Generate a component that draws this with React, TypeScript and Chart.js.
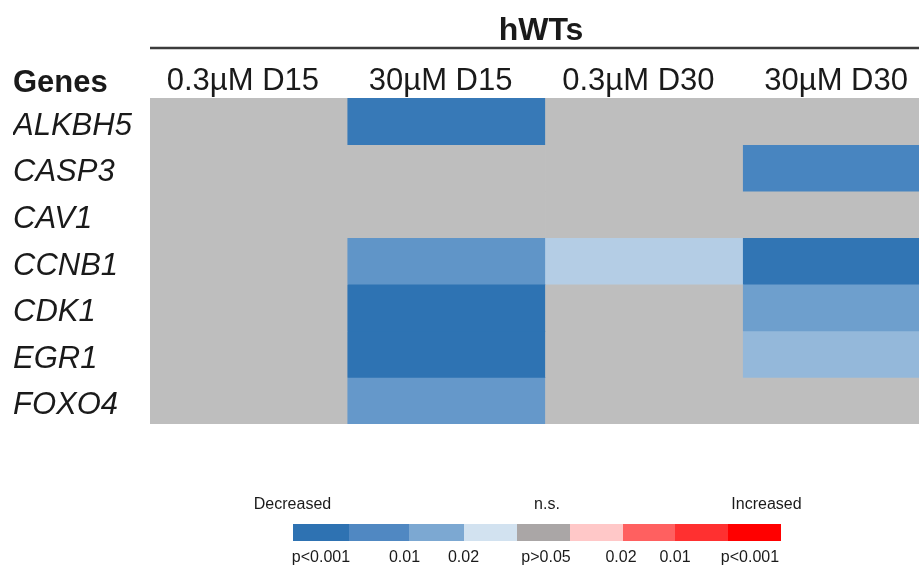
import { useEffect, useRef } from "react";
import { Chart, registerables } from "chart.js";

Chart.register(...registerables);

// ---- data ----
const genes = ["ALKBH5", "CASP3", "CAV1", "CCNB1", "CDK1", "EGR1", "FOXO4"];
const conditions = ["0.3µM D15", "30µM D15", "0.3µM D30", "30µM D30"];
const groupTitle = "hWTs";
const rowHeader = "Genes";

// p-values of decreased expression per condition (null = n.s., p>0.05)
const pALKBH5 = [null, 0.004, null, null];
const pCASP3 = [null, null, null, 0.01];
const pCAV1 = [null, null, null, null];
const pCCNB1 = [null, 0.015, 0.041, 0.002];
const pCDK1 = [null, 0.001, null, 0.018];
const pEGR1 = [null, 0.001, null, 0.03];
const pFOXO4 = [null, 0.016, null, null];
const pValues: (number | null)[][] = [pALKBH5, pCASP3, pCAV1, pCCNB1, pCDK1, pEGR1, pFOXO4];

// colour key
const legendColors = [
  "#2e72b2", "#5088c2", "#7ca8d2", "#d2e2f0",
  "#aaa6a6",
  "#ffc8c8", "#ff6060", "#ff3030", "#ff0000",
];
const legendHeads = ["Decreased", "n.s.", "Increased"];
const legendTicks = ["p<0.001", "0.01", "0.02", "p>0.05", "0.02", "0.01", "p<0.001"];

// ---- styling ----
const FONT = "'Liberation Sans', Arial, Helvetica, sans-serif";
const TEXT = "#1a1a1a";
const NS_GREY = "#bebebe";

// blue ramp for decreased genes, interpolated linearly in p between stops
const decreasedStops: [number, number[]][] = [
  [0.001, [46, 115, 179]],
  [0.01, [72, 133, 192]],
  [0.02, [120, 165, 208]],
  [0.05, [205, 222, 238]],
];

function decreasedColor(p: number | null): string {
  if (p === null || p > 0.05) return NS_GREY;
  if (p <= decreasedStops[0][0]) return `rgb(${decreasedStops[0][1].join(",")})`;
  for (let i = 1; i < decreasedStops.length; i++) {
    const [p1, c1] = decreasedStops[i];
    const [p0, c0] = decreasedStops[i - 1];
    if (p <= p1) {
      const t = (p - p0) / (p1 - p0);
      const c = c0.map((v, k) => Math.round(v + (c1[k] - v) * t));
      return `rgb(${c.join(",")})`;
    }
  }
  return NS_GREY;
}

// layout of the header and colour key (canvas pixels)
const KEY_EDGES = [293, 349, 409, 464, 517, 570, 623, 675, 728, 781];
const KEY_TOP = 524;
const KEY_HEIGHT = 17;
const KEY_HEAD_X = [292.5, 547, 766.5];
const KEY_TICK_X = [321, 404.5, 463.5, 546, 621, 675, 750];

const decorPlugin = {
  id: "heatmapDecor",
  afterDraw(chart: Chart) {
    const { ctx, chartArea } = chart;
    ctx.save();
    ctx.fillStyle = TEXT;
    ctx.textBaseline = "alphabetic";

    // group title with its rule
    ctx.font = `bold 32px ${FONT}`;
    ctx.textAlign = "center";
    ctx.fillText(groupTitle, 541, 40);
    ctx.strokeStyle = "#3c3c3c";
    ctx.lineWidth = 2.5;
    ctx.beginPath();
    ctx.moveTo(chartArea.left, 48);
    ctx.lineTo(chart.width, 48);
    ctx.stroke();

    // row header
    ctx.font = `bold 31px ${FONT}`;
    ctx.textAlign = "left";
    ctx.fillText(rowHeader, 13, 92);

    // colour key
    legendColors.forEach((c, i) => {
      ctx.fillStyle = c;
      ctx.fillRect(KEY_EDGES[i], KEY_TOP, KEY_EDGES[i + 1] - KEY_EDGES[i], KEY_HEIGHT);
    });
    ctx.fillStyle = TEXT;
    ctx.font = `16px ${FONT}`;
    ctx.textAlign = "center";
    legendHeads.forEach((t, i) => ctx.fillText(t, KEY_HEAD_X[i], 509));
    legendTicks.forEach((t, i) => ctx.fillText(t, KEY_TICK_X[i], 562));
    ctx.restore();
  },
};

export default function App() {
  const canvasRef = useRef<HTMLCanvasElement | null>(null);

  useEffect(() => {
    const canvas = canvasRef.current;
    if (!canvas) return;

    const datasets = genes.map((g, r) => ({
      label: g,
      data: conditions.map(() => 1),
      backgroundColor: pValues[r].map((p) => decreasedColor(p)),
      borderWidth: 0,
      barPercentage: 1,
      categoryPercentage: 1,
    }));

    const chart = new Chart(canvas, {
      type: "bar",
      data: { labels: conditions, datasets },
      plugins: [decorPlugin],
      options: {
        responsive: false,
        animation: false,
        layout: { padding: { left: 13, top: 0, right: 19, bottom: 142 } },
        plugins: { legend: { display: false }, tooltip: { enabled: false } },
        scales: {
          x: {
            type: "category",
            position: "top",
            stacked: true,
            grid: { display: false, drawTicks: false },
            border: { display: false },
            afterFit: (s: any) => {
              s.height = 98;
            },
            ticks: {
              color: TEXT,
              font: { family: FONT, size: 31, lineHeight: 1 },
              padding: 1,
              labelOffset: -6,
              maxRotation: 0,
              autoSkip: false,
            },
          },
          y: {
            type: "linear",
            stacked: true,
            reverse: true,
            min: 0,
            max: genes.length,
            grid: { display: false, drawTicks: false },
            border: { display: false },
            afterBuildTicks: (s: any) => {
              s.ticks = genes.map((_, i) => ({ value: i + 0.5 }));
            },
            afterFit: (s: any) => {
              s.width = 137;
            },
            ticks: {
              color: TEXT,
              font: { family: FONT, size: 31, style: "italic" },
              crossAlign: "far",
              labelOffset: 5,
              autoSkip: false,
              callback: (v: any) => genes[Math.floor(Number(v))] ?? "",
            },
          },
        },
      },
    });

    return () => chart.destroy();
  }, []);

  return (
    <div
      style={{
        position: "absolute",
        left: 0,
        top: 0,
        width: 919,
        height: 566,
        overflow: "hidden",
        background: "#ffffff",
      }}
    >
      <canvas ref={canvasRef} width={960} height={566} style={{ display: "block" }} />
    </div>
  );
}
